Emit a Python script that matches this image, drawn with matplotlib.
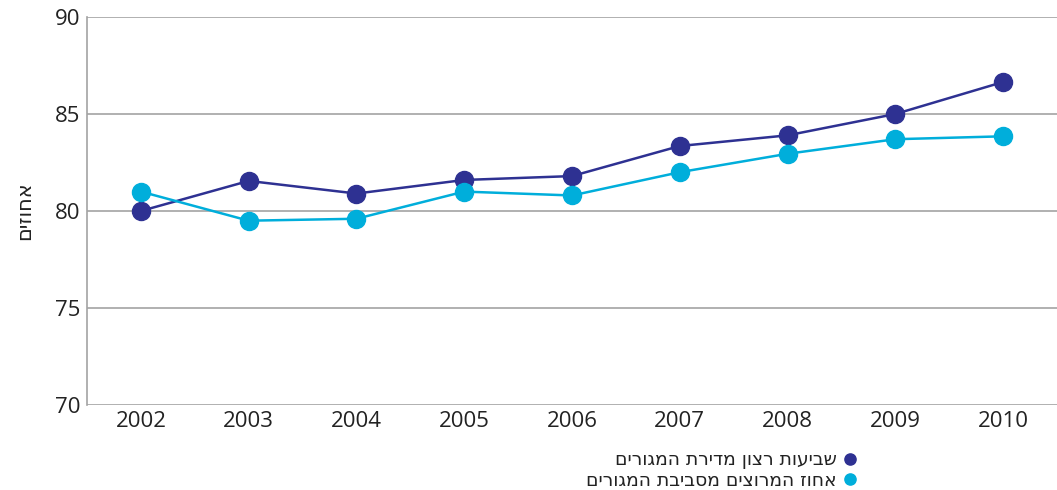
import matplotlib
matplotlib.use("Agg")
import matplotlib.pyplot as plt
import numpy as np

# -------------------------------
# Data
# -------------------------------
years = ["2002", "2003", "2004", "2005", "2006", "2007", "2008", "2009", "2010"]
satisfaction = [80.0, 81.55, 80.9, 81.6, 81.8, 83.35, 83.9, 85.0, 86.65]
neighborhood = [81.0, 79.5, 79.6, 81.0, 80.8, 82.0, 82.95, 83.7, 83.85]
yticks = [70, 75, 80, 85, 90]

label_dark = "שביעות רצון מדירת המגורים"
label_light = "אחוז המרוצים מסביבת המגורים"
ylabel = "אחוזים"


def rtl(s):
    # matplotlib has no bidi support: reverse Hebrew strings by hand
    return s[::-1]


DARK = "#2E3192"
LIGHT = "#00AEDB"
GRID = "#A3A3A3"
TEXT = "#222222"
HEB = "DejaVu Sans"

plt.rcParams["font.family"] = ["Open Sans", "DejaVu Sans"]

fig = plt.figure(figsize=(10.57, 4.90), dpi=100)
ax = fig.add_axes([0.0823, 0.1735, 0.9177, 0.7918])

x = np.arange(len(years))
ax.plot(x, satisfaction, color=DARK, lw=1.8, marker="o", ms=13,
        label=rtl(label_dark), zorder=3)
ax.plot(x, neighborhood, color=LIGHT, lw=1.8, marker="o", ms=13,
        label=rtl(label_light), zorder=3)

ax.set_xlim(-0.5, len(years) - 0.5)
ax.set_ylim(70, 90)
ax.set_xticks(x)
ax.set_xticklabels(years)
ax.set_yticks(yticks)

for y in yticks:
    ax.axhline(y, color=GRID, lw=1.2, zorder=1)

for side in ["top", "right", "bottom"]:
    ax.spines[side].set_visible(False)
ax.spines["left"].set_color(GRID)
ax.spines["left"].set_linewidth(1.2)

ax.tick_params(axis="both", length=0, labelsize=16, colors=TEXT)
ax.tick_params(axis="x", pad=4)
ax.tick_params(axis="y", pad=5)

ax.set_ylabel(rtl(ylabel), fontsize=15, color=TEXT, labelpad=15, family=HEB)

leg = fig.legend(loc="upper right", bbox_to_anchor=(0.818, 0.1),
                 frameon=False, markerfirst=False,
                 prop={"family": HEB, "size": 13.5},
                 handlelength=0.6, handletextpad=0.4, labelspacing=0.08,
                 borderpad=0, markerscale=0.62)
for line in leg.get_lines():
    line.set_linestyle("none")
for t in leg.get_texts():
    t.set_color(TEXT)

fig.savefig("out.png", dpi=100)
